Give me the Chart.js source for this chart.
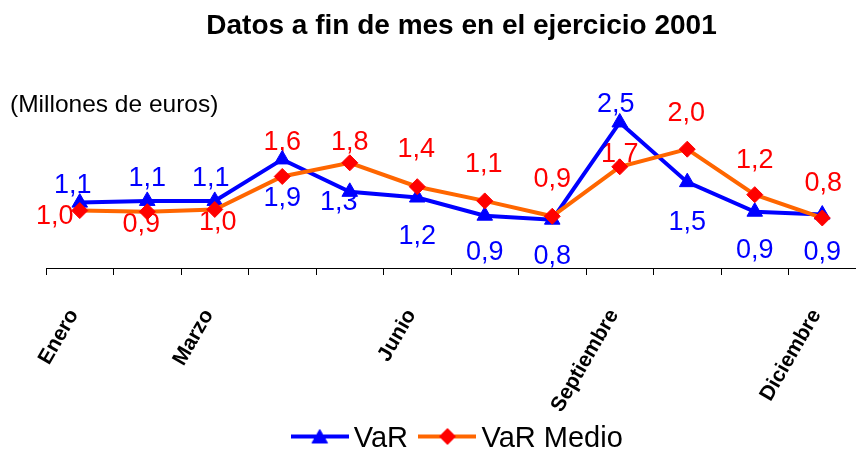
<!DOCTYPE html>
<html>
<head>
<meta charset="utf-8">
<script src="https://cdn.jsdelivr.net/npm/chart.js@4/dist/chart.umd.min.js"></script>
<style>
html,body{margin:0;padding:0;background:#fff;}
#wrap{width:856px;height:452px;position:relative;background:#fff;}
</style>
</head>
<body>
<div id="wrap"><canvas id="c" width="856" height="452"></canvas></div>
<script>
// ---- data ----
const months = ['Enero','Febrero','Marzo','Abril','Mayo','Junio','Julio','Agosto','Septiembre','Octubre','Noviembre','Diciembre'];
const shownMonths = ['Enero','Marzo','Junio','Septiembre','Diciembre'];
const varValues = [1.10, 1.13, 1.13, 1.86, 1.29, 1.19, 0.87, 0.80, 2.51, 1.46, 0.94, 0.89];
const varMedioValues = [0.96, 0.94, 0.98, 1.56, 1.80, 1.38, 1.13, 0.86, 1.73, 2.04, 1.24, 0.83];
const seriesNames = ['VaR', 'VaR Medio'];
const titleText = 'Datos a fin de mes en el ejercicio 2001';
const unitText = '(Millones de euros)';

// ---- label placement (relative offsets in px from each point) ----
const varLabelOffsets = [[-7,-17],[0,-22],[-4,-22],[0,39],[-11,11],[0,39],[0,37],[0,37],[-4,-18],[0,40],[0,39],[0,38]];
const medioLabelOffsets = [[-25,6],[-6,13],[3,13],[0,-34],[0,-20],[-1,-37],[-1,-36],[0,-37],[0,-12],[-1,-36],[0,-34],[1,-34]];

const BLUE = '#0000FF', ORANGE = '#FF6600', RED = '#FF0000';
const FONT = "'Liberation Sans', Arial, sans-serif";

function makeIcon(lineColor, markColor, shape) {
  const c = document.createElement('canvas');
  c.width = 58; c.height = 22;
  const g = c.getContext('2d');
  const y = 9, x = 29;
  g.strokeStyle = lineColor; g.lineWidth = 4;
  g.beginPath(); g.moveTo(0, y); g.lineTo(58, y); g.stroke();
  g.fillStyle = markColor; g.strokeStyle = markColor; g.lineWidth = 1;
  g.beginPath();
  if (shape === 'triangle') {
    const r = 9, cy = y + 2;
    g.moveTo(x, cy - r);
    g.lineTo(x + 0.866 * r, cy + 0.5 * r);
    g.lineTo(x - 0.866 * r, cy + 0.5 * r);
  } else {
    const r = 8;
    g.moveTo(x - r, y); g.lineTo(x, y - r); g.lineTo(x + r, y); g.lineTo(x, y + r);
  }
  g.closePath(); g.fill(); g.stroke();
  return c;
}
const legendIcons = [makeIcon(BLUE, BLUE, 'triangle'), makeIcon(ORANGE, RED, 'diamond')];

const labelPlugin = {
  id: 'valueLabels',
  beforeDatasetsDraw(chart) {
    const ctx = chart.ctx;
    const offsets = [varLabelOffsets, medioLabelOffsets];
    const colors = [BLUE, RED];
    ctx.save();
    ctx.font = '27px ' + FONT;
    ctx.textAlign = 'center';
    ctx.textBaseline = 'middle';
    chart.data.datasets.forEach((ds, di) => {
      const meta = chart.getDatasetMeta(di);
      ctx.fillStyle = colors[di];
      meta.data.forEach((pt, i) => {
        const txt = ds.data[i].toFixed(1).replace('.', ',');
        ctx.fillText(txt, pt.x + offsets[di][i][0], pt.y + offsets[di][i][1]);
      });
    });
    ctx.restore();
  },
  afterDraw(chart) {
    const ctx = chart.ctx;
    ctx.save();
    ctx.font = '24.5px ' + FONT;
    ctx.fillStyle = '#000';
    ctx.textAlign = 'left';
    ctx.textBaseline = 'middle';
    ctx.fillText(unitText, 10, 105);
    ctx.restore();
  }
};

new Chart(document.getElementById('c'), {
  type: 'line',
  data: {
    labels: months,
    datasets: [
      {
        label: seriesNames[0],
        data: varValues,
        borderColor: BLUE,
        backgroundColor: BLUE,
        borderWidth: 4,
        pointStyle: 'triangle',
        pointRadius: 9,
        pointBorderWidth: 1,
        pointBackgroundColor: BLUE,
        pointBorderColor: BLUE,
        tension: 0,
        order: 1
      },
      {
        label: seriesNames[1],
        data: varMedioValues,
        borderColor: ORANGE,
        backgroundColor: RED,
        borderWidth: 4,
        pointStyle: 'rectRot',
        pointRadius: 8,
        pointBorderWidth: 1,
        pointBackgroundColor: RED,
        pointBorderColor: RED,
        tension: 0,
        order: 0
      }
    ]
  },
  options: {
    responsive: false,
    animation: false,
    devicePixelRatio: 1,
    layout: { autoPadding: false, padding: { left: 46, right: -21, top: 0, bottom: -11 } },
    plugins: {
      title: {
        display: true,
        text: titleText,
        color: '#000',
        font: { family: FONT, size: 28, weight: 'bold' },
        padding: { top: 9, bottom: 52 }
      },
      legend: {
        display: true,
        position: 'bottom',
        labels: {
          color: '#000',
          font: { family: FONT, size: 29 },
          usePointStyle: true,
          pointStyleWidth: 39,
          boxHeight: 29,
          padding: 20,
          generateLabels(chart) {
            const items = Chart.defaults.plugins.legend.labels.generateLabels(chart);
            items.sort((a, b) => a.datasetIndex - b.datasetIndex);
            items.forEach(it => { it.pointStyle = legendIcons[it.datasetIndex]; it.fontColor = '#000'; });
            return items;
          }
        }
      },
      tooltip: { enabled: false }
    },
    scales: {
      x: {
        offset: true,
        grid: { display: true, drawOnChartArea: false, drawTicks: true, tickLength: 7, color: '#000', lineWidth: 1, offset: true },
        border: { display: true, color: '#000', width: 1 },
        ticks: {
          autoSkip: false,
          maxRotation: 60,
          minRotation: 60,
          padding: 30,
          labelOffset: -6,
          color: '#000',
          font: { family: FONT, size: 21, weight: 'bold' },
          callback: function (v) {
            const l = this.getLabelForValue(v);
            return shownMonths.includes(l) ? l : '';
          }
        },
        afterFit(scale) {
          scale.height = 136;
          scale.paddingLeft = 0;
          scale.paddingRight = 0;
          // let the rotated labels run slightly past the axis box (no clipping)
          scale._computeLabelArea = function () { return undefined; };
        }
      },
      y: { display: false, min: -0.05, max: 3 }
    }
  },
  plugins: [labelPlugin]
});
</script>
</body>
</html>
